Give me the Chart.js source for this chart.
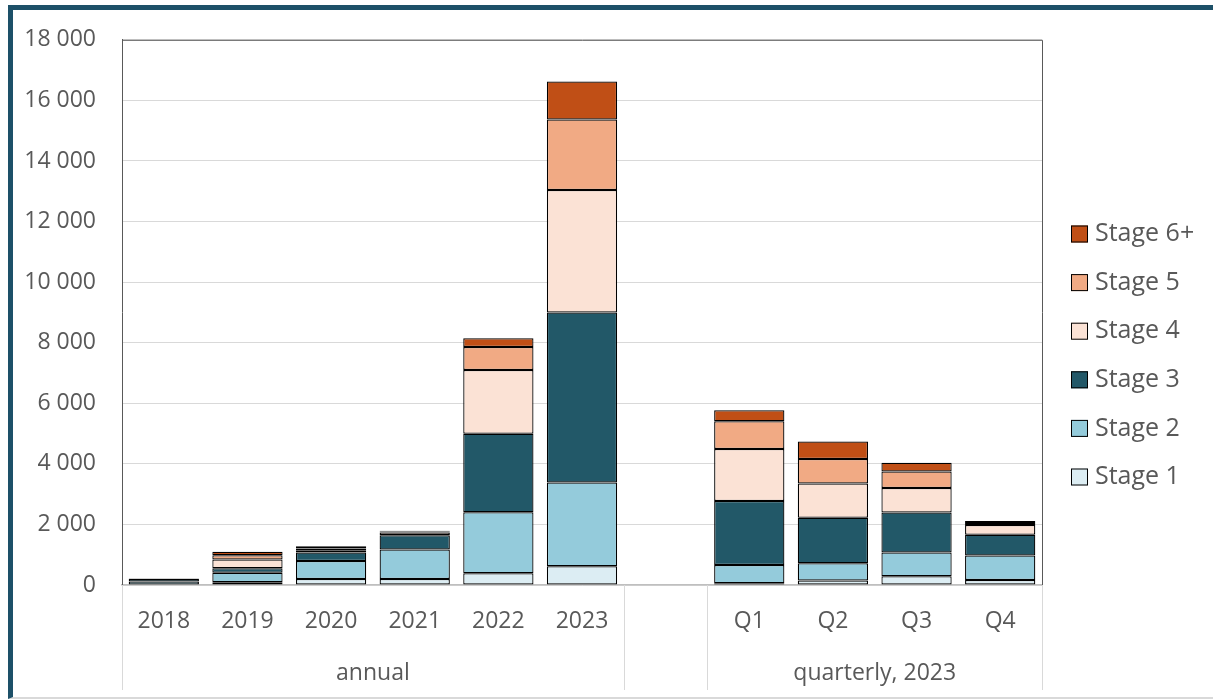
<!DOCTYPE html>
<html>
<head>
<meta charset="utf-8">
<script src="https://cdn.jsdelivr.net/npm/chart.js@4"></script>
<style>
  body { margin: 0; background: #fff; }
  #frame { position: absolute; left: 8px; top: 5px; width: 1300px; height: 687px;
           border-top: 5px solid #1d5068; border-left: 5px solid #1d5068; border-bottom: 2px solid #d9d9d9; }
  #wrap { position: absolute; left: 0; top: 0; width: 1213px; height: 700px; }
</style>
</head>
<body>
<div id="frame"></div>
<div id="wrap"><canvas id="stages" width="1213" height="700"></canvas></div>
<script>
// categories: annual 2018-2023, a blank gap, then 2023 quarters
const categories = ['2018', '2019', '2020', '2021', '2022', '2023', '', 'Q1', 'Q2', 'Q3', 'Q4'];
const groupLabels = ['annual', 'quarterly, 2023'];
const groupRanges = [[0, 5], [7, 10]];
const yTicks = [0, 2000, 4000, 6000, 8000, 10000, 12000, 14000, 16000, 18000];

const seriesNames = ['Stage 1', 'Stage 2', 'Stage 3', 'Stage 4', 'Stage 5', 'Stage 6+'];
const stage1 = [15, 90, 200, 200, 385, 620, null, 60, 150, 285, 165];
const stage2 = [100, 315, 590, 975, 2015, 2760, null, 600, 570, 790, 810];
const stage3 = [90, 145, 285, 470, 2595, 5620, null, 2110, 1500, 1315, 680];
const stage4 = [10, 295, 75, 90, 2105, 4040, null, 1720, 1130, 810, 330];
const stage5 = [5, 140, 55, 30, 755, 2330, null, 920, 810, 550, 65];
const stage6 = [5, 110, 75, 30, 290, 1250, null, 360, 580, 285, 65];
const colors = ['#dcedf3', '#94cbdb', '#225868', '#fbe2d5', '#f1aa84', '#c04f16'];

const fmt = v => String(v).replace(/\B(?=(\d{3})+(?!\d))/g, ' ');
const FONT = '"Open Sans", sans-serif';

const extras = {
    id: 'extras',
    afterDraw(chart) {
        const ctx = chart.ctx;
        const area = chart.chartArea;
        const x = chart.scales.x;
        const half = (x.right - x.left) / categories.length / 2;
        ctx.save();

        // plot box top and right edges
        ctx.strokeStyle = '#595959';
        ctx.lineWidth = 1;
        ctx.beginPath();
        ctx.moveTo(area.left, area.top + 0.5);
        ctx.lineTo(area.right + 0.5, area.top + 0.5);
        ctx.lineTo(area.right + 0.5, area.bottom);
        ctx.stroke();

        // group separators and labels
        ctx.strokeStyle = '#d9d9d9';
        ctx.fillStyle = '#595959';
        ctx.font = '23px ' + FONT;
        ctx.textAlign = 'center';
        ctx.textBaseline = 'middle';
        groupRanges.forEach((r, i) => {
            const x0 = x.getPixelForValue(r[0]) - half;
            const x1 = x.getPixelForValue(r[1]) + half;
            [x0, x1].forEach(px => {
                ctx.beginPath();
                ctx.moveTo(Math.round(px) + 0.5, area.bottom);
                ctx.lineTo(Math.round(px) + 0.5, 690);
                ctx.stroke();
            });
            ctx.fillText(groupLabels[i], (x0 + x1) / 2, 673);
        });

        // legend, reversed
        ctx.font = '25px ' + FONT;
        ctx.textAlign = 'left';
        const sets = chart.data.datasets;
        for (let k = 0; k < sets.length; k++) {
            const ds = sets[sets.length - 1 - k];
            const cy = 234 + k * 48.6;
            ctx.fillStyle = ds.backgroundColor;
            ctx.fillRect(1071, cy - 8.5, 17, 17);
            ctx.strokeStyle = '#000';
            ctx.strokeRect(1071.5, cy - 8, 16, 16);
            ctx.fillStyle = '#595959';
            ctx.fillText(ds.label, 1095, cy);
        }
        ctx.restore();
    }
};

const allSeries = [stage1, stage2, stage3, stage4, stage5, stage6];

new Chart(document.getElementById('stages'), {
    type: 'bar',
    data: {
        labels: categories,
        datasets: allSeries.map((d, i) => ({
            label: seriesNames[i],
            data: d,
            backgroundColor: colors[i],
            borderColor: '#000',
            borderWidth: 1.25,
            borderSkipped: false,
            barPercentage: 0.84,
            categoryPercentage: 1
        }))
    },
    options: {
        responsive: false,
        animation: false,
        layout: { padding: { left: 22, top: 37, right: 171, bottom: 0 } },
        plugins: { legend: { display: false }, tooltip: { enabled: false } },
        scales: {
            x: {
                stacked: true,
                afterFit: s => { s.height = 115; },
                grid: { display: true, color: 'rgba(0,0,0,0)', drawTicks: false },
                border: { color: '#bfbfbf', width: 1.5 },
                ticks: { padding: 23, color: '#595959', font: { family: FONT, size: 23 } }
            },
            y: {
                stacked: true,
                min: 0,
                max: 18000,
                afterFit: s => { s.width = 100; },
                afterBuildTicks: s => { s.ticks = yTicks.map(v => ({ value: v })); },
                grid: { color: '#d9d9d9', drawTicks: false },
                border: { color: '#595959', width: 1 },
                ticks: { padding: 26, color: '#595959', font: { family: FONT, size: 23 }, callback: v => fmt(v) }
            }
        }
    },
    plugins: [extras]
});
</script>
</body>
</html>
